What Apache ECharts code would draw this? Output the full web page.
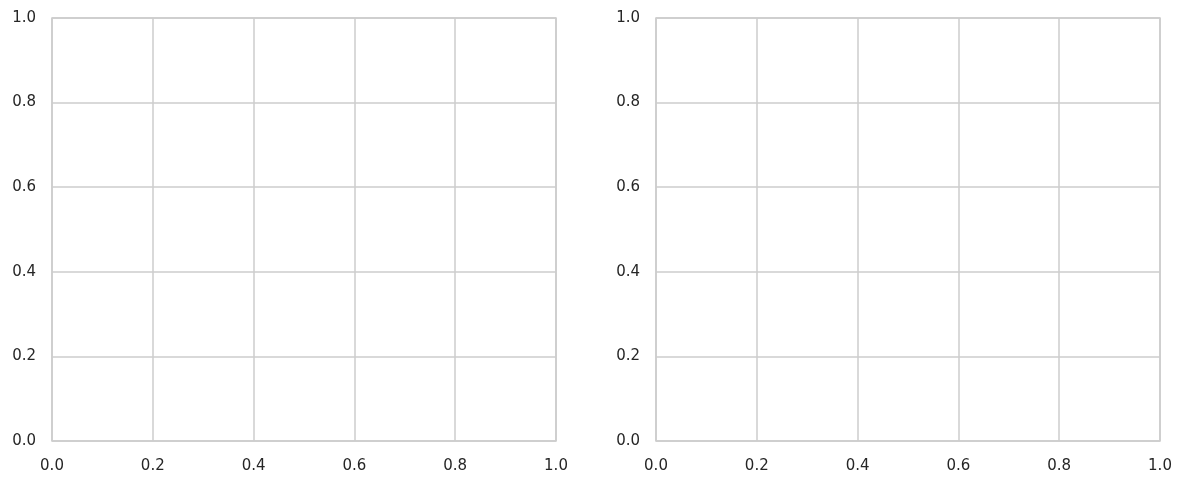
<!DOCTYPE html>
<html>
<head>
<meta charset="utf-8">
<title>Empty axes</title>
<script src="https://cdn.jsdelivr.net/npm/echarts@6/dist/echarts.min.js"></script>
<style>
html, body { margin: 0; padding: 0; background: #fff; }
#chart { width: 1184px; height: 485px; }
</style>
</head>
<body>
<div id="chart"></div>
<script>
// both panels are empty, only the axes with ticks 0.0 .. 1.0
var axisMin = 0;
var axisMax = 1;
var tickStep = 0.2;
var tickLabels = ['0.0', '0.2', '0.4', '0.6', '0.8', '1.0'];
var leftValues = [];
var rightValues = [];

var chart = echarts.init(document.getElementById('chart'));

function makeAxis(idx, gap) {
    return {
        type: 'value',
        gridIndex: idx,
        min: axisMin,
        max: axisMax,
        interval: tickStep,
        axisLine: { show: false },
        axisTick: { show: false },
        splitLine: { show: true, lineStyle: { color: '#cccccc', width: 1.5 } },
        axisLabel: {
            color: '#262626',
            fontFamily: 'DejaVu Sans',
            fontSize: 15,
            margin: gap,
            formatter: function (v) {
                return tickLabels[Math.round((v - axisMin) / tickStep)];
            }
        }
    };
}

var gridStyle = { show: true, borderColor: '#cccccc', borderWidth: 1.5, backgroundColor: '#fff' };

var option = {
    backgroundColor: '#fff',
    animation: false,
    grid: [
        Object.assign({ left: 52, right: 628, top: 18, bottom: 44 }, gridStyle),
        Object.assign({ left: 656, right: 24, top: 18, bottom: 44 }, gridStyle)
    ],
    xAxis: [makeAxis(0, 18), makeAxis(1, 18)],
    yAxis: [makeAxis(0, 16), makeAxis(1, 16)],
    series: [
        { type: 'line', xAxisIndex: 0, yAxisIndex: 0, data: leftValues },
        { type: 'line', xAxisIndex: 1, yAxisIndex: 1, data: rightValues }
    ]
};

chart.setOption(option);
window.onresize = chart.resize;
</script>
</body>
</html>
